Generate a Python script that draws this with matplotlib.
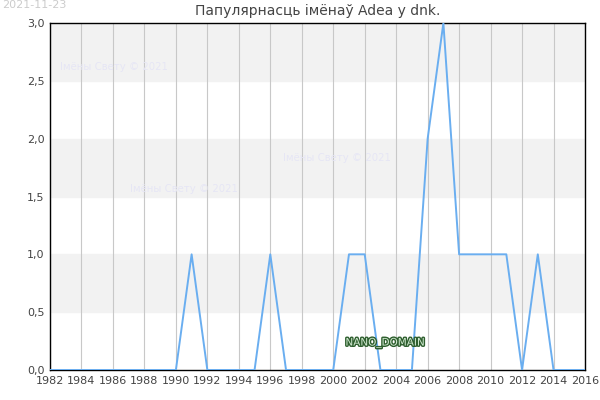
import matplotlib
matplotlib.use('Agg')
import matplotlib.pyplot as plt
import matplotlib.patheffects as pe

years = list(range(1982, 2017))
counts = [0, 0, 0, 0, 0, 0, 0, 0, 0, 1, 0, 0, 0, 0, 1, 0, 0, 0, 0, 1,
          1, 0, 0, 0, 2, 3, 1, 1, 1, 1, 0, 1, 0, 0, 0]
xticks = list(range(1982, 2017, 2))
yticks = [0.0, 0.5, 1.0, 1.5, 2.0, 2.5, 3.0]
title = 'Папулярнасць імёнаў Adea у dnk.'
watermark = 'Імёны Свету © 2021'

fig = plt.figure(figsize=(6, 4), dpi=100)
ax = fig.add_axes([50 / 600, 30 / 400, 535 / 600, 347 / 400])
ax.set_xlim(1982, 2016)
ax.set_ylim(0, 3)

# alternating bands
for lo in (0.5, 1.5, 2.5):
    ax.axhspan(lo, lo + 0.5, color='#f2f2f2', zorder=0)
for x in xticks:
    ax.axvline(x, color='#c8c8c8', lw=0.8, zorder=1)

ax.plot(years, counts, color='#6aaef0', lw=1.4, zorder=3)

ax.set_xticks(xticks)
ax.set_yticks(yticks)
ax.set_yticklabels([f'{v:.1f}'.replace('.', ',') for v in yticks])
ax.tick_params(length=0, labelsize=8, colors='#444444', pad=4)
for s in ax.spines.values():
    s.set_color('black')
    s.set_linewidth(1)

ax.set_title(title, fontsize=10, color='#444444', pad=6)

wm = dict(transform=fig.transFigure, color='#e6e6f5', fontsize=7.3, zorder=2)
fig.text(60 / 600, 1 - 67 / 400, watermark, va='center', **wm)
fig.text(283 / 600, 1 - 158 / 400, watermark, va='center', **wm)
fig.text(130 / 600, 1 - 189 / 400, watermark, va='center', **wm)
fig.text(2 / 600, 1 - 5 / 400, '2021-11-23', color='#cccccc', fontsize=8, va='center')

t = fig.text(385 / 600, 1 - 343 / 400, 'NANO_DOMAIN', color='#cfe8cf', fontsize=7.5,
             ha='center', va='center')
t.set_path_effects([pe.withStroke(linewidth=2, foreground='#2e5e2e')])

fig.savefig('out.png', dpi=100)
